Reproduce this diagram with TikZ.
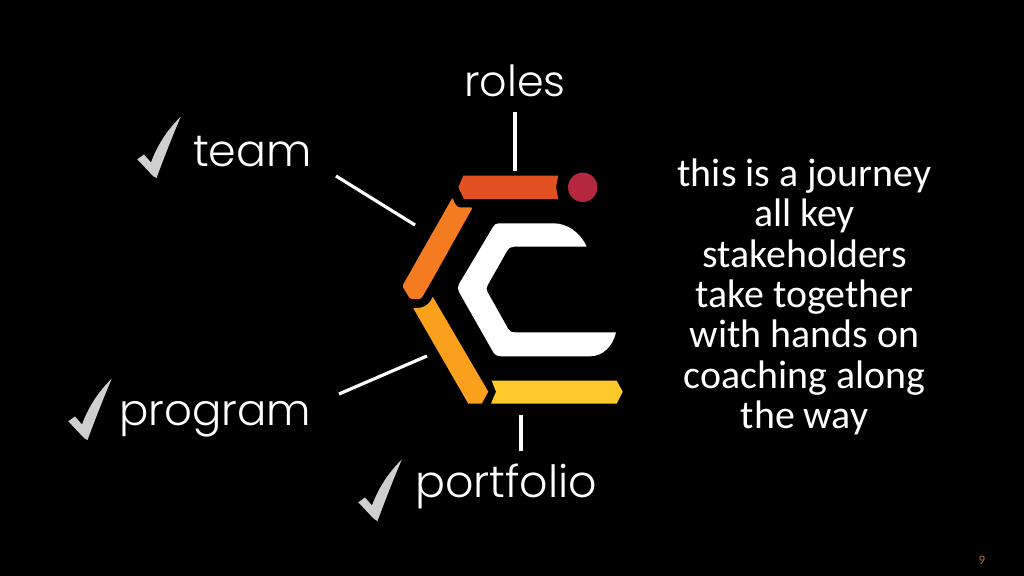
\documentclass[tikz,border=0pt]{standalone}
\usepackage{fontspec}
\setmainfont{Carlito}
\newfontfamily\labelfont{Poppins Light}
\definecolor{barred}{HTML}{E25122}
\definecolor{barorange}{HTML}{F47B20}
\definecolor{baramber}{HTML}{FAA01C}
\definecolor{baryellow}{HTML}{FFC92B}
\definecolor{dotred}{HTML}{B5273F}
\definecolor{checkgray}{HTML}{CFCFCF}
\definecolor{pagenum}{HTML}{B5702A}
\tikzset{
  biglabel/.style={text=white,font=\labelfont\fontsize{#1}{#1}\selectfont,anchor=base west,inner sep=0pt},
  leader/.style={draw=white,line width=3.2pt},
  checkmark/.pic={\fill[checkgray] (137.3,159.3) -- (144,154.5) -- (151,162.5) .. controls (157,146) and (167,130) .. (180.7,116.7) .. controls (173,135) and (165,155) .. (156.5,178) -- (153,176) -- cycle;}
}
\begin{document}
\begin{tikzpicture}[x=1bp,y=-1bp]
\useasboundingbox (0,0) rectangle (1024,576);
\fill[black] (0,0) rectangle (1024,576);
% logo
\fill[barred] (463.3,175.7) -- (558.3,175.7) -- (556,187) -- (558.3,199) -- (464,199) -- (458.3,187.3) -- cycle;
\fill[dotred] (582.7,187.3) circle (14.7);
\fill[barorange,rounded corners=1.5pt] (452.7,197.3) .. controls (454,203) and (457,207.5) .. (462,207.5) -- (472.7,207.5) -- (429.3,285) -- (421,299) -- (410,299) -- (402.3,286) -- cycle;
\fill[baramber] (413.3,308.3) -- (420,307.7) .. controls (426,307) and (431,302) .. (432.7,296.7) -- (488.3,391.7) -- (481.7,403.7) -- (468.3,403.7) -- cycle;
\fill[baryellow] (491.7,380.7) -- (616.7,380.7) -- (622.7,391.7) -- (616.7,403.7) -- (491,403.7) -- (496,391.7) -- cycle;
\fill[white] (586.7,246.7) .. controls (580,232) and (567,223.3) .. (553.3,223.3) -- (499,223.3) .. controls (496,223.3) and (494.5,224.5) .. (493,227) -- (459,284) .. controls (457.5,287) and (457.5,289) .. (459,292) -- (492,350) .. controls (494,354.5) and (497,356.3) .. (501,356.3) -- (590,356.3) .. controls (603,356.3) and (613,346) .. (616,332.3) -- (515,332.3) .. controls (511,332.3) and (509.5,331) .. (508,328.5) -- (487.5,292) .. controls (486.3,290) and (486.3,287.5) .. (487.5,285.5) -- (507,251) .. controls (509,248) and (510.5,246.7) .. (514,246.7) -- cycle;
% labels
\node[biglabel=43] (roles) at (464,97) {roles};
\node[biglabel=44.5] (team) at (193,167) {team};
\node[biglabel=43.6] (program) at (119,425) {program};
\node[biglabel=44.5] (portfolio) at (415,497) {portfolio};
% leaders
\coordinate (r1) at (515,112); \coordinate (r2) at (515,171);
\coordinate (t1) at (336,176); \coordinate (t2) at (415,225);
\coordinate (g1) at (339,394); \coordinate (g2) at (427,356);
\coordinate (f1) at (521,415); \coordinate (f2) at (521,451);
\draw[leader] (r1) -- (r2);
\draw[leader] (t1) -- (t2);
\draw[leader] (g1) -- (g2);
\draw[leader] (f1) -- (f2);
% checks
\pic at (0,0) {checkmark};
\pic at (-69,262) {checkmark};
\pic at (221,343) {checkmark};
% text
\node[text=white,align=center,inner sep=0pt,font=\fontsize{40}{40.5}\selectfont] (body) at (804.5,297) {this is a journey\\all key\\stakeholders\\take together\\with hands on\\coaching along\\the way};
\node[text=pagenum,inner sep=0pt,font=\fontsize{13}{13}\selectfont] (page) at (982,560) {9};
\end{tikzpicture}
\end{document}
